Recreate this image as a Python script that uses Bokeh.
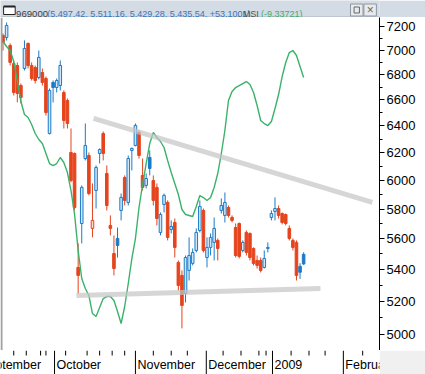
import numpy as np
from bokeh.plotting import figure
from bokeh.models import Range1d, FixedTicker, PrintfTickFormatter, BoxAnnotation, LinearScale
from bokeh.layouts import column
from bokeh.embed import file_html
from bokeh.resources import INLINE
from bokeh.core.properties import value

# ---------------- data ----------------
symbol = "969000"
indicator_name = "MSI"

opens = [7124, 7107, 7040, 6891, 6875, 6714, 6851, 7057, 6875, 6859,
         6778, 6818, 6770, 6343, 6738, 6698, 6714, 6659, 6596, 6202,
         6195, 5413, 5702, 6158, 6180, 5669, 5929, 6195, 6343, 6050,
         5689, 5503, 5602, 5791, 6021, 5846, 6217, 6254, 6351, 6036,
         5965, 6166, 6000, 5951, 5642, 5832, 5846, 5662, 5709, 5445,
         5362, 5249, 5394, 5439, 5523, 5655, 5791, 5477, 5543, 5576,
         5589, 5791, 5757, 5811, 5743, 5675, 5702, 5523, 5642, 5635,
         5536, 5458, 5458, 5413, 5536, 5743, 5784, 5804, 5770, 5763,
         5669, 5589, 5576, 5420, 5497.42]
highs = [7141, 7234, 7057, 6916, 6900, 6730, 7082, 7065, 6900, 6875,
         6998, 6851, 6786, 6690, 6754, 6770, 6916, 6675, 6612, 6381,
         6202, 5569, 5965, 6419, 6202, 5979, 6108, 6232, 6358, 6108,
         5757, 5622, 5675, 5908, 6036, 6180, 6239, 6419, 6366, 6158,
         6050, 6217, 6036, 5979, 5777, 5908, 5860, 5723, 5736, 5458,
         5394, 5490, 5609, 5536, 5669, 5860, 5804, 5609, 5635, 5743,
         5602, 5874, 5915, 5825, 5757, 5702, 5709, 5589, 5655, 5642,
         5543, 5490, 5477, 5523, 5576, 5791, 5881, 5825, 5777, 5770,
         5689, 5602, 5589, 5440, 5511.16]
lows = [6998, 7082, 6875, 6635, 6581, 6573, 6835, 6851, 6754, 6730,
        6762, 6714, 6480, 6336, 6581, 6659, 6675, 6381, 6381, 5986,
        5791, 5249, 5569, 6144, 5895, 5609, 5804, 6122, 6144, 5791,
        5622, 5362, 5477, 5723, 5825, 5825, 6072, 6247, 6158, 5929,
        5944, 6036, 5825, 5689, 5622, 5777, 5589, 5635, 5477, 5268,
        5036, 5193, 5330, 5426, 5510, 5642, 5510, 5413, 5490, 5458,
        5458, 5770, 5709, 5743, 5709, 5477, 5471, 5510, 5490, 5458,
        5426, 5406, 5381, 5406, 5510, 5723, 5723, 5736, 5696, 5689,
        5589, 5523, 5330, 5340, 5429.28]
closes = [7065, 7209, 6900, 6659, 6651, 6620, 7015, 6875, 6770, 6754,
          6941, 6738, 6503, 6675, 6698, 6754, 6875, 6442, 6419, 6000,
          5811, 5362, 5951, 6254, 5908, 5723, 6093, 6224, 6195, 5825,
          5669, 5406, 5556, 5881, 5860, 6158, 6232, 6404, 6180, 5951,
          6014, 6086, 5860, 5736, 5763, 5895, 5609, 5682, 5543, 5299,
          5175, 5477, 5490, 5510, 5642, 5818, 5523, 5543, 5609, 5669,
          5536, 5825, 5846, 5757, 5723, 5490, 5484, 5576, 5510, 5477,
          5439, 5426, 5394, 5471, 5543, 5770, 5804, 5757, 5709, 5702,
          5602, 5543, 5362, 5382.4399, 5435.54]
msi = [-2.14, -3.14, -3.94, -6.14, -9.94, -14.14, -16.74, -17.34, -18.74, -20.54,
       -21.74, -22.54, -24.54, -26.54, -26.94, -26.54, -25.34, -26.34, -28.34, -31.94,
       -36.74, -43.94, -49.54, -51.54, -52.94, -56.54, -57.14, -55.34, -53.54, -53.14,
       -53.14, -53.94, -56.14, -58.54, -55.14, -50.54, -45.54, -41.54, -35.34, -30.74,
       -26.54, -22.54, -20.34, -21.34, -22.14, -23.34, -25.94, -28.34, -30.54, -32.74,
       -35.74, -36.74, -36.94, -37.14, -35.14, -32.94, -33.34, -33.94, -33.34, -31.34,
       -28.54, -24.54, -19.94, -13.94, -12.14, -11.34, -10.94, -10.54, -10.14, -10.74,
       -12.34, -14.94, -17.94, -18.54, -18.94, -18.14, -15.54, -12.74, -9.14, -6.34,
       -4.34, -3.94, -4.94, -7.14, -9.33721]

# hand-drawn trend lines (bar index, price)
trend_upper_x = [25.3, 103.2]
trend_upper_y = [6457, 5846]
trend_lower_x = [20.5, 88.7]
trend_lower_y = [5236, 5280]

# axis definitions
y_ticks = [5000, 5200, 5400, 5600, 5800, 6000, 6200, 6400, 6600, 6800, 7000, 7200]
y_minor = [5100, 5300, 5500, 5700, 5900, 6100, 6300, 6500, 6700, 6900, 7100]
month_names = ["September", "October", "November", "December", "2009", "February"]
month_starts = [-7.0, 14.4, 37.0, 56.8, 75.3, 95.1]
week_ticks = [3.0, 6.5, 10.5, 12.0, 17.5, 23.5, 27.0, 30.5, 34.0, 42.0, 47.0,
              51.5, 61.5, 66.5, 71.5, 73.5, 80.5, 85.5, 90.0, 100.5]

# ---------------- styling ----------------
BLUE = "#1C7BC8"
RED = "#E5441D"
BLUE_LIGHT = "#D2E6F6"
RED_LIGHT = "#F9DDD4"
GREEN = "#3BB26A"
FONT = "Liberation Sans"

o = np.array(opens, float)
c = np.array(closes, float)
h = np.array(highs, float)
l = np.array(lows, float)
x = np.arange(len(c))
prev = np.concatenate([[o[0]], c[:-1]])
up = c > prev
hollow = c > o
col = np.where(up, BLUE, RED)
fill = np.where(hollow, np.where(up, BLUE_LIGHT, RED_LIGHT), col)

# ---------------- title bar ----------------
tb = figure(width=425, height=17, x_range=Range1d(0, 425), y_range=Range1d(17, 0),
            x_axis_location=None, y_axis_location=None, toolbar_location=None,
            output_backend="svg", min_border=0, background_fill_color="#D3DBE5",
            border_fill_color="#D3DBE5", outline_line_color=None)
tb.grid.visible = False
tb.quad(left=3.5, right=16.5, top=6, bottom=14, fill_color="white", line_color="#222222")
tb.segment(x0=3.5, y0=6, x1=16.5, y1=6, line_color="#222222", line_width=2)
tb.segment(x0=0, y0=16.5, x1=425, y1=16.5, line_color="#A9B2BC")
ohlc_txt = "({:,.2f}, {:,.2f}, {:,.2f}, {:,.2f}, {:+.4f})".format(
    opens[-1], highs[-1], lows[-1], closes[-1], closes[-1] - closes[-2])
msi_txt = "({:.5f})".format(msi[-1])
tf = dict(text_font=value(FONT), text_font_size="9px", text_baseline="alphabetic",
          text_align="left")
tb.text(x=[17.5], y=[13], text=[symbol], text_color="#404040",
        **{**tf, "text_font_size": "9.6px"})
tb.text(x=[52.5], y=[13], text=[ohlc_txt], text_color="#3776BE", **tf)
tb.text(x=[266], y=[13], text=[", " + indicator_name], text_color="#505050", **tf)
tb.text(x=[292], y=[13], text=[msi_txt], text_color="#3DAE6A", **tf)
tb.quad(left=[392.5, 407.5], right=[406.5, 421.5], top=3.5, bottom=15.5,
        fill_color="#E7EBEF", line_color="#8E969E")
tb.quad(left=396.5, right=402.5, top=6.5, bottom=12.5, fill_color=None, line_color="#666666")
tb.text(x=[414.5], y=[9.5], text=["\u00d7"], text_align="center", text_baseline="middle",
        text_font=value(FONT), text_font_size="12px", text_color="#666666")

# ---------------- main chart ----------------
p = figure(width=425, height=333, x_range=Range1d(-0.7, 105.2), y_range=Range1d(4906, 7277),
           y_axis_type="log", y_axis_location="right", x_axis_location=None,
           toolbar_location=None, output_backend="svg",
           min_border_left=0, min_border_top=0, min_border_bottom=0, min_border_right=46,
           background_fill_color="white", border_fill_color="white", outline_line_color=None)
p.grid.visible = False
p.extra_y_ranges = {"msi": Range1d(-63.93721, 2.66279)}
p.extra_y_scales = {"msi": LinearScale()}

ax = p.yaxis[0]
ax.ticker = FixedTicker(ticks=y_ticks, minor_ticks=y_minor)
ax.formatter = PrintfTickFormatter(format="%d")
ax.axis_label = None
ax.axis_label_standoff = 0
ax.axis_label_text_font_size = "0px"
ax.major_label_text_font = FONT
ax.major_label_text_font_size = "13px"
ax.major_label_text_color = "black"
ax.major_tick_out = 5
ax.major_tick_in = 0
ax.minor_tick_out = 3
ax.minor_tick_in = 0
ax.major_label_standoff = 2
ax.axis_line_color = "black"
ax.major_tick_line_color = "black"
ax.minor_tick_line_color = "black"

p.segment(x0=x, y0=h, x1=x, y1=l, line_color=col, line_width=1)
p.vbar(x=x, width=0.72, top=np.maximum(o, c), bottom=np.minimum(o, c),
       fill_color=fill, line_color=col, line_width=1)
p.line(x=x, y=msi, y_range_name="msi", line_color=GREEN, line_width=1.4)
p.line(x=trend_upper_x, y=trend_upper_y, line_color="#C4C4C4", line_alpha=0.7, line_width=5)
p.line(x=trend_lower_x, y=trend_lower_y, line_color="#C4C4C4", line_alpha=0.7, line_width=5)
p.add_layout(BoxAnnotation(left=0, right=2, left_units="screen", right_units="screen",
                           fill_color="#A0A0A0", fill_alpha=1, line_color=None))

# ---------------- time axis strip ----------------
tx = figure(width=425, height=24, x_range=p.x_range, y_range=Range1d(24, 0),
            x_axis_location=None, y_axis_location=None, toolbar_location=None,
            output_backend="svg", min_border_left=0, min_border_top=0, min_border_bottom=0,
            min_border_right=46, background_fill_color="white",
            border_fill_color="#F0F0F0", outline_line_color=None)
tx.grid.visible = False
tx.segment(x0=month_starts, y0=0, x1=month_starts, y1=24, line_color="black", line_width=1)
tx.segment(x0=week_ticks, y0=0, x1=week_ticks, y1=5, line_color="black", line_width=1)
tx.text(x=month_starts, y=14, text=month_names, x_offset=2, text_align="left",
        text_baseline="middle", text_font=value(FONT), text_font_size="12.5px",
        text_color="black")

layout = column(tb, p, tx, spacing=0)
open("out.html", "w").write(file_html(layout, INLINE))
